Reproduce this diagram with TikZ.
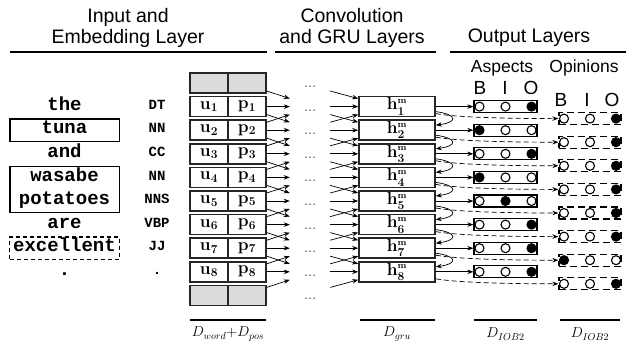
\documentclass[tikz,border=0pt]{standalone}
\usepackage[no-math]{fontspec}
\setmainfont{Liberation Sans}
\newfontfamily\monof{Liberation Mono}
\usetikzlibrary{arrows.meta,fit}
\begin{document}
\begin{tikzpicture}[x=1pt,y=-1pt,
  every node/.style={inner sep=0pt},
  hdr/.style={font=\fontsize{19.5}{21.5}\selectfont, align=center},
  sub/.style={font=\fontsize{17.5}{17.5}\selectfont},
  bio/.style={font=\fontsize{19}{19}\selectfont},
  word/.style={font=\fontsize{19}{19}\selectfont\monof\bfseries, minimum width=109pt, minimum height=22pt, text height=11pt, text depth=3.5pt},
  postag/.style={font=\fontsize{14}{14}\selectfont\monof\bfseries, text height=8pt, text depth=2.5pt},
  cell/.style={draw=black!85, line width=1.6pt, minimum width=38pt, minimum height=20pt, font=\fontsize{18}{18}\selectfont\boldmath},
  graycell/.style={cell, fill=black!14},
  dotn/.style={minimum width=40pt, minimum height=20pt, text height=9pt, text depth=0pt, font=\fontsize{13}{13}\selectfont, text=black!70},
  hbox/.style={draw=black!85, line width=1.6pt, minimum width=76pt, minimum height=20pt, font=\fontsize{18}{18}\selectfont\boldmath},
  abox/.style={draw, line width=1.3pt, minimum width=63pt, minimum height=12pt},
  obox/.style={draw, line width=1.3pt, dash pattern=on 7pt off 4pt, minimum width=62pt, minimum height=12pt},
  circ/.style={circle, draw, line width=1.1pt, minimum size=9pt},
  arr/.style={-{Stealth[length=6pt,width=4.5pt]}, line width=0.7pt},
  darr/.style={arr, dash pattern=on 5pt off 3pt},
  rule/.style={line width=1.1pt},
  dlab/.style={font=\fontsize{14.5}{14.5}\selectfont}
]
\useasboundingbox (0,0) rectangle (628,346);

% headers
\node[hdr] (hd1) at (128,28) {Input and\\Embedding Layer};
\node[hdr] (hd2) at (352,28) {Convolution\\and GRU Layers};
\node[hdr] (hd3) at (529,38) {Output Layers};
\draw[rule] (10,52) -- (267,52);
\draw[rule] (275,52) -- (436,52);
\draw[rule] (450,52) -- (626,52);
\node[sub] (asp) at (502,68) {Aspects};
\node[sub] (opi) at (584,68) {Opinions};
\node[bio] (aB) at (480,88) {B};
\node[bio] (aI) at (505,88) {I};
\node[bio] (aO) at (531,88) {O};
\node[bio] (oB) at (561,100) {B};
\node[bio] (oI) at (587,100) {I};
\node[bio] (oO) at (612,100) {O};

% gray cells and dots rows
\foreach \i in {0,9} {
  \pgfmathsetmacro\c{83+23.6*\i}
  \node[graycell] (u\i) at (209,\c) {};
  \node[graycell] (p\i) at (247,\c) {};
}
\foreach \i in {0,...,9} {
  \pgfmathsetmacro\c{83+23.6*\i}
  \node[dotn] (d\i) at (310,\c) {\ldots};
}

% words, tags, embeddings, GRU
\foreach \i/\w/\t in {1/the/DT, 2/tuna/NN, 3/and/CC, 4/wasabe/NN, 5/potatoes/NNS, 6/are/VBP, 7/excellent/JJ, 8/./.} {
  \pgfmathsetmacro\c{83+23.6*\i}
  \node[word] (w\i) at (64.5,\c) {\w};
  \node[postag] (t\i) at (157,\c) {\t};
  \node[cell] (u\i) at (209,\c) {$\mathbf{u}_{\mathbf{\i}}$};
  \node[cell] (p\i) at (247,\c) {$\mathbf{p}_{\mathbf{\i}}$};
  \node[hbox] (h\i) at (397,\c) {$\mathbf{h}^{\scriptscriptstyle\mathbf{m}}_{\mathbf{\i}}$};
}
\node[draw, line width=1.4pt, fit=(w2)] (box2) {};
\node[draw, line width=1.4pt, fit=(w4)(w5)] (box45) {};
\node[draw, line width=1.3pt, dash pattern=on 4pt off 3pt, fit=(w7)] (box7) {};

% straight arrows
\foreach \i in {1,...,8} {
  \draw[arr] (p\i.east) -- (d\i.west);
  \draw[arr] (d\i.east) -- (h\i.west);
}
% downward cross arrows
\foreach \i [evaluate=\i as \j using int(\i+1)] in {0,...,7} {
  \draw[arr] ([yshift=-8pt]p\i.east) -- ([yshift=8pt]d\j.west);
  \draw[arr] ([yshift=-8pt]d\i.east) -- ([yshift=8pt]h\j.west);
}
% upward cross arrows
\foreach \j [evaluate=\j as \i using int(\j-1)] in {2,...,9} {
  \draw[arr] ([yshift=8pt]p\j.east) -- ([yshift=-8pt]d\i.west);
  \draw[arr] ([yshift=8pt]d\j.east) -- ([yshift=-8pt]h\i.west);
}

% output layers
\foreach \i/\fa/\fo in {1/3/3, 2/1/3, 3/3/3, 4/1/3, 5/2/3, 6/3/3, 7/3/1, 8/3/3} {
  \pgfmathsetmacro\c{83+23.6*\i}
  \pgfmathsetmacro\co{\c+12}
  \node[abox] (a\i) at (505.5,\c) {};
  \node[obox] (o\i) at (590,\co) {};
  \foreach \k in {1,2,3} {
    \pgfmathsetmacro\dx{26*(\k-2)}
    \ifnum\k=\fa\def\fc{black}\else\def\fc{white}\fi
    \node[circ, fill=\fc] (ac\i\k) at ([xshift=\dx pt]a\i.center) {};
    \ifnum\k=\fo\def\fc{black}\else\def\fc{white}\fi
    \node[circ, fill=\fc] (oc\i\k) at ([xshift=\dx pt]o\i.center) {};
  }
  \draw[arr] (h\i.east) -- (a\i.west);
  \draw[darr] ([yshift=-7pt]h\i.east) .. controls +(22,4) and +(-45,0) .. (o\i.west);
}
% recurrent loops
\foreach \i [evaluate=\i as \j using int(\i+1)] in {1,...,7} {
  \draw[arr] ([yshift=-5pt]h\i.east) .. controls +(22,3) and +(22,-3) .. ([yshift=5pt]h\j.east);
}

% dimension labels
\draw[rule] (190,320) -- (266,320);
\draw[rule] (360,320) -- (435,320);
\draw[rule] (474,320) -- (537,320);
\draw[rule] (560,320) -- (620,320);
\node[dlab] (l1) at (228,334) {$D_{word}{+}D_{pos}$};
\node[dlab] (l2) at (397,334) {$D_{gru}$};
\node[dlab] (l3) at (505.5,334) {$D_{IOB2}$};
\node[dlab] (l4) at (590,334) {$D_{IOB2}$};
\end{tikzpicture}
\end{document}
